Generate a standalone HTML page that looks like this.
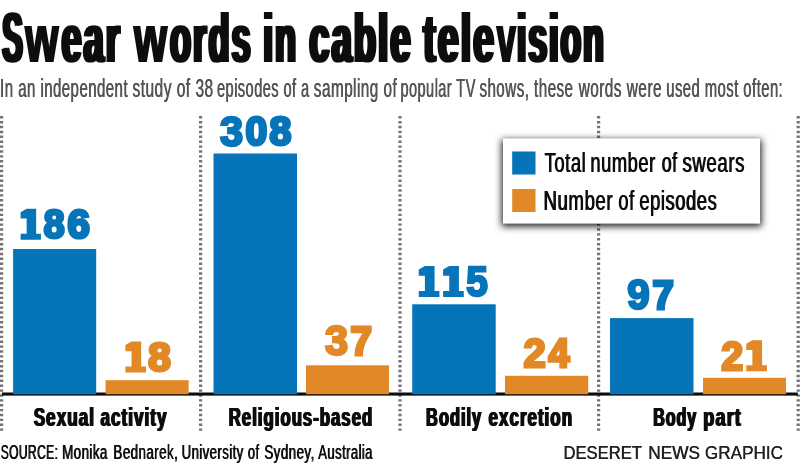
<!DOCTYPE html>
<html>
<head>
<meta charset="utf-8">
<title>Swear words in cable television</title>
<style>
  html, body { margin: 0; padding: 0; background: #ffffff; }
  body { width: 800px; height: 464px; overflow: hidden; }
  svg { display: block; }
  text { font-family: "Liberation Sans", sans-serif; }
  .b { font-weight: bold; }
</style>
</head>
<body>
<svg width="800" height="464" viewBox="0 0 800 464">
  <defs>
    <filter id="sh" x="-10%" y="-25%" width="120%" height="150%">
      <feGaussianBlur stdDeviation="3.6"/>
    </filter>
  </defs>
  <rect x="0" y="0" width="800" height="464" fill="#ffffff"/>

  <!-- dotted separators -->
  <g stroke="#737373" stroke-width="3.2" stroke-dasharray="2.4 2.48" fill="none">
    <line x1="1.6" y1="116.1" x2="1.6" y2="431.2"/>
    <line x1="200.6" y1="116.1" x2="200.6" y2="431.2"/>
    <line x1="400" y1="116.1" x2="400" y2="431.2"/>
    <line x1="598.6" y1="116.1" x2="598.6" y2="431.2"/>
    <line x1="798.2" y1="116.1" x2="798.2" y2="431.2"/>
  </g>

  <!-- base line -->
  <rect x="2" y="392.5" width="795.8" height="3.1" fill="#0d0d0d"/>

  <!-- bars -->
  <g fill="#0674b8">
    <rect x="13.1" y="249" width="83.1" height="145.2"/>
    <rect x="213.5" y="153.5" width="83.5" height="240.7"/>
    <rect x="412.2" y="304.3" width="83.5" height="89.9"/>
    <rect x="610" y="318.1" width="83.5" height="76.1"/>
  </g>
  <g fill="#e28826">
    <rect x="105.6" y="380.2" width="83.0" height="14.0"/>
    <rect x="306" y="365.3" width="83" height="28.9"/>
    <rect x="505" y="375.8" width="83.2" height="18.4"/>
    <rect x="703" y="377.8" width="83" height="16.4"/>
  </g>

  <!-- legend box -->
  <rect x="501.5" y="139.6" width="260" height="87" fill="#000000" fill-opacity="0.85" filter="url(#sh)"/>
  <rect x="503" y="138.4" width="257" height="85.2" fill="#ffffff"/>
  <rect x="512.2" y="151.5" width="23.3" height="23" fill="#0674b8"/>
  <rect x="512.2" y="189" width="23.3" height="23" fill="#e28826"/>

  <!-- "1" digits (slab) -->
    <polygon points="26.64,208.65 36.15,208.65 36.15,233.65 40.90,233.65 40.90,239.75 20.60,239.75 20.60,233.65 26.64,233.65 26.64,218.55 20.60,218.55 20.60,212.25" fill="#0674b8"/>
  <polygon points="424.89,265.90 434.56,265.90 434.56,290.90 439.40,290.90 439.40,297.00 418.75,297.00 418.75,290.90 424.89,290.90 424.89,275.80 418.75,275.80 418.75,269.50" fill="#0674b8"/>
  <polygon points="449.24,265.90 458.91,265.90 458.91,290.90 463.75,290.90 463.75,297.00 443.10,297.00 443.10,290.90 449.24,290.90 449.24,275.80 443.10,275.80 443.10,269.50" fill="#0674b8"/>
  <polygon points="131.53,341.40 141.18,341.40 141.18,366.40 146.00,366.40 146.00,372.50 125.40,372.50 125.40,366.40 131.53,366.40 131.53,351.30 125.40,351.30 125.40,345.00" fill="#e28826"/>
  <polygon points="752.39,340.15 762.06,340.15 762.06,365.15 766.90,365.15 766.90,371.25 746.25,371.25 746.25,365.15 752.39,365.15 752.39,350.05 746.25,350.05 746.25,343.75" fill="#e28826"/>

  <!-- text -->
  <g opacity="0.999">
    <text class="b" x="0.52" y="62" font-size="71.3" textLength="20.55" lengthAdjust="spacingAndGlyphs" fill="#0d0d0d">S</text><text class="b" x="2.32" y="62" font-size="71.3" textLength="20.55" lengthAdjust="spacingAndGlyphs" fill="#0d0d0d">S</text><text class="b" x="4.12" y="62" font-size="71.3" textLength="20.55" lengthAdjust="spacingAndGlyphs" fill="#0d0d0d">S</text>
  <text class="b" x="24.36" y="62" font-size="68.6" textLength="35.62" lengthAdjust="spacingAndGlyphs" letter-spacing="4" fill="#0d0d0d">w</text><text class="b" x="25.26" y="62" font-size="68.6" textLength="35.62" lengthAdjust="spacingAndGlyphs" letter-spacing="4" fill="#0d0d0d">w</text><text class="b" x="26.16" y="62" font-size="68.6" textLength="35.62" lengthAdjust="spacingAndGlyphs" letter-spacing="4" fill="#0d0d0d">w</text>
  <text class="b" x="59.68" y="62" font-size="68.6" textLength="60.44" lengthAdjust="spacingAndGlyphs" letter-spacing="4" fill="#0d0d0d">ear</text><text class="b" x="61.48" y="62" font-size="68.6" textLength="60.44" lengthAdjust="spacingAndGlyphs" letter-spacing="4" fill="#0d0d0d">ear</text><text class="b" x="63.28" y="62" font-size="68.6" textLength="60.44" lengthAdjust="spacingAndGlyphs" letter-spacing="4" fill="#0d0d0d">ear</text>
  <text class="b" x="133.1" y="62" font-size="68.6" textLength="35.49" lengthAdjust="spacingAndGlyphs" letter-spacing="4" fill="#0d0d0d">w</text><text class="b" x="134" y="62" font-size="68.6" textLength="35.49" lengthAdjust="spacingAndGlyphs" letter-spacing="4" fill="#0d0d0d">w</text><text class="b" x="134.9" y="62" font-size="68.6" textLength="35.49" lengthAdjust="spacingAndGlyphs" letter-spacing="4" fill="#0d0d0d">w</text>
  <text class="b" x="168.24" y="62" font-size="68.6" textLength="82.62" lengthAdjust="spacingAndGlyphs" letter-spacing="4" fill="#0d0d0d">ords</text><text class="b" x="170.04" y="62" font-size="68.6" textLength="82.62" lengthAdjust="spacingAndGlyphs" letter-spacing="4" fill="#0d0d0d">ords</text><text class="b" x="171.84" y="62" font-size="68.6" textLength="82.62" lengthAdjust="spacingAndGlyphs" letter-spacing="4" fill="#0d0d0d">ords</text>
  <text class="b" x="261.53" y="62" font-size="68.6" textLength="34.71" lengthAdjust="spacingAndGlyphs" letter-spacing="4" fill="#0d0d0d">in</text><text class="b" x="263.33" y="62" font-size="68.6" textLength="34.71" lengthAdjust="spacingAndGlyphs" letter-spacing="4" fill="#0d0d0d">in</text><text class="b" x="265.13" y="62" font-size="68.6" textLength="34.71" lengthAdjust="spacingAndGlyphs" letter-spacing="4" fill="#0d0d0d">in</text>
  <text class="b" x="307.52" y="62" font-size="68.6" textLength="103.3" lengthAdjust="spacingAndGlyphs" letter-spacing="4" fill="#0d0d0d">cable</text><text class="b" x="309.32" y="62" font-size="68.6" textLength="103.3" lengthAdjust="spacingAndGlyphs" letter-spacing="4" fill="#0d0d0d">cable</text><text class="b" x="311.12" y="62" font-size="68.6" textLength="103.3" lengthAdjust="spacingAndGlyphs" letter-spacing="4" fill="#0d0d0d">cable</text>
  <text class="b" x="421.49" y="62" font-size="68.6" textLength="72.85" lengthAdjust="spacingAndGlyphs" letter-spacing="4" fill="#0d0d0d">tele</text><text class="b" x="423.29" y="62" font-size="68.6" textLength="72.85" lengthAdjust="spacingAndGlyphs" letter-spacing="4" fill="#0d0d0d">tele</text><text class="b" x="425.09" y="62" font-size="68.6" textLength="72.85" lengthAdjust="spacingAndGlyphs" letter-spacing="4" fill="#0d0d0d">tele</text>
  <text class="b" x="495.86" y="62" font-size="68.6" textLength="21.02" lengthAdjust="spacingAndGlyphs" letter-spacing="4" fill="#0d0d0d">v</text><text class="b" x="496.76" y="62" font-size="68.6" textLength="21.02" lengthAdjust="spacingAndGlyphs" letter-spacing="4" fill="#0d0d0d">v</text><text class="b" x="497.66" y="62" font-size="68.6" textLength="21.02" lengthAdjust="spacingAndGlyphs" letter-spacing="4" fill="#0d0d0d">v</text>
  <text class="b" x="515.2" y="62" font-size="68.6" textLength="88.71" lengthAdjust="spacingAndGlyphs" letter-spacing="4" fill="#0d0d0d">ision</text><text class="b" x="517.0" y="62" font-size="68.6" textLength="88.71" lengthAdjust="spacingAndGlyphs" letter-spacing="4" fill="#0d0d0d">ision</text><text class="b" x="518.8" y="62" font-size="68.6" textLength="88.71" lengthAdjust="spacingAndGlyphs" letter-spacing="4" fill="#0d0d0d">ision</text>
  <text x="-0.15" y="97.4" font-size="26.3" textLength="127.93" lengthAdjust="spacingAndGlyphs" letter-spacing="0.8" fill="#555555">In an independent</text><text x="0.35" y="97.4" font-size="26.3" textLength="127.93" lengthAdjust="spacingAndGlyphs" letter-spacing="0.8" fill="#555555">In an independent</text>
  <text x="132.16" y="97.4" font-size="26.3" textLength="81.21" lengthAdjust="spacingAndGlyphs" letter-spacing="0.8" fill="#555555">study of 38</text><text x="132.66" y="97.4" font-size="26.3" textLength="81.21" lengthAdjust="spacingAndGlyphs" letter-spacing="0.8" fill="#555555">study of 38</text>
  <text x="216.82" y="97.4" font-size="26.3" textLength="92.55" lengthAdjust="spacingAndGlyphs" letter-spacing="0.8" fill="#555555">episodes of a</text><text x="217.32" y="97.4" font-size="26.3" textLength="92.55" lengthAdjust="spacingAndGlyphs" letter-spacing="0.8" fill="#555555">episodes of a</text>
  <text x="313.62" y="97.4" font-size="26.3" textLength="83.33" lengthAdjust="spacingAndGlyphs" letter-spacing="0.8" fill="#555555">sampling of</text><text x="314.12" y="97.4" font-size="26.3" textLength="83.33" lengthAdjust="spacingAndGlyphs" letter-spacing="0.8" fill="#555555">sampling of</text>
  <text x="400.28" y="97.4" font-size="26.3" textLength="75.33" lengthAdjust="spacingAndGlyphs" letter-spacing="0.8" fill="#555555">popular TV</text><text x="400.78" y="97.4" font-size="26.3" textLength="75.33" lengthAdjust="spacingAndGlyphs" letter-spacing="0.8" fill="#555555">popular TV</text>
  <text x="479.15" y="97.4" font-size="26.3" textLength="94.12" lengthAdjust="spacingAndGlyphs" letter-spacing="0.8" fill="#555555">shows, these</text><text x="479.65" y="97.4" font-size="26.3" textLength="94.12" lengthAdjust="spacingAndGlyphs" letter-spacing="0.8" fill="#555555">shows, these</text>
  <text x="578.4" y="97.4" font-size="26.3" textLength="83.35" lengthAdjust="spacingAndGlyphs" letter-spacing="0.8" fill="#555555">words were</text><text x="578.9" y="97.4" font-size="26.3" textLength="83.35" lengthAdjust="spacingAndGlyphs" letter-spacing="0.8" fill="#555555">words were</text>
  <text x="666.01" y="97.4" font-size="26.3" textLength="116.93" lengthAdjust="spacingAndGlyphs" letter-spacing="0.8" fill="#555555">used most often:</text><text x="666.51" y="97.4" font-size="26.3" textLength="116.93" lengthAdjust="spacingAndGlyphs" letter-spacing="0.8" fill="#555555">used most often:</text>
  <text class="b" x="32.91" y="426.4" font-size="25.2" textLength="61.32" lengthAdjust="spacingAndGlyphs" letter-spacing="1.5" fill="#0d0d0d">Sexual</text><text class="b" x="33.66" y="426.4" font-size="25.2" textLength="61.32" lengthAdjust="spacingAndGlyphs" letter-spacing="1.5" fill="#0d0d0d">Sexual</text><text class="b" x="34.41" y="426.4" font-size="25.2" textLength="61.32" lengthAdjust="spacingAndGlyphs" letter-spacing="1.5" fill="#0d0d0d">Sexual</text>
  <text class="b" x="99.71" y="426.4" font-size="25.2" textLength="67.02" lengthAdjust="spacingAndGlyphs" letter-spacing="1.5" fill="#0d0d0d">activity</text><text class="b" x="100.46" y="426.4" font-size="25.2" textLength="67.02" lengthAdjust="spacingAndGlyphs" letter-spacing="1.5" fill="#0d0d0d">activity</text><text class="b" x="101.21" y="426.4" font-size="25.2" textLength="67.02" lengthAdjust="spacingAndGlyphs" letter-spacing="1.5" fill="#0d0d0d">activity</text>
  <text class="b" x="227.99" y="426.4" font-size="25.2" textLength="144.5" lengthAdjust="spacingAndGlyphs" letter-spacing="1.5" fill="#0d0d0d">Religious-based</text><text class="b" x="228.74" y="426.4" font-size="25.2" textLength="144.5" lengthAdjust="spacingAndGlyphs" letter-spacing="1.5" fill="#0d0d0d">Religious-based</text><text class="b" x="229.49" y="426.4" font-size="25.2" textLength="144.5" lengthAdjust="spacingAndGlyphs" letter-spacing="1.5" fill="#0d0d0d">Religious-based</text>
  <text class="b" x="425.37" y="426.4" font-size="25.2" textLength="55.94" lengthAdjust="spacingAndGlyphs" letter-spacing="1.5" fill="#0d0d0d">Bodily</text><text class="b" x="426.12" y="426.4" font-size="25.2" textLength="55.94" lengthAdjust="spacingAndGlyphs" letter-spacing="1.5" fill="#0d0d0d">Bodily</text><text class="b" x="426.87" y="426.4" font-size="25.2" textLength="55.94" lengthAdjust="spacingAndGlyphs" letter-spacing="1.5" fill="#0d0d0d">Bodily</text>
  <text class="b" x="487.8" y="426.4" font-size="25.2" textLength="84.53" lengthAdjust="spacingAndGlyphs" letter-spacing="1.5" fill="#0d0d0d">excretion</text><text class="b" x="488.55" y="426.4" font-size="25.2" textLength="84.53" lengthAdjust="spacingAndGlyphs" letter-spacing="1.5" fill="#0d0d0d">excretion</text><text class="b" x="489.3" y="426.4" font-size="25.2" textLength="84.53" lengthAdjust="spacingAndGlyphs" letter-spacing="1.5" fill="#0d0d0d">excretion</text>
  <text class="b" x="652.46" y="426.4" font-size="25.2" textLength="44.01" lengthAdjust="spacingAndGlyphs" letter-spacing="1.5" fill="#0d0d0d">Body</text><text class="b" x="653.21" y="426.4" font-size="25.2" textLength="44.01" lengthAdjust="spacingAndGlyphs" letter-spacing="1.5" fill="#0d0d0d">Body</text><text class="b" x="653.96" y="426.4" font-size="25.2" textLength="44.01" lengthAdjust="spacingAndGlyphs" letter-spacing="1.5" fill="#0d0d0d">Body</text>
  <text class="b" x="702.62" y="426.4" font-size="25.2" textLength="38.57" lengthAdjust="spacingAndGlyphs" letter-spacing="1.5" fill="#0d0d0d">part</text><text class="b" x="703.37" y="426.4" font-size="25.2" textLength="38.57" lengthAdjust="spacingAndGlyphs" letter-spacing="1.5" fill="#0d0d0d">part</text><text class="b" x="704.12" y="426.4" font-size="25.2" textLength="38.57" lengthAdjust="spacingAndGlyphs" letter-spacing="1.5" fill="#0d0d0d">part</text>
  <text x="544.25" y="171.7" font-size="27" textLength="41.59" lengthAdjust="spacingAndGlyphs" letter-spacing="0.8" fill="#0d0d0d">Total</text><text x="545.05" y="171.7" font-size="27" textLength="41.59" lengthAdjust="spacingAndGlyphs" letter-spacing="0.8" fill="#0d0d0d">Total</text>
  <text x="590.03" y="171.7" font-size="27" textLength="65.42" lengthAdjust="spacingAndGlyphs" letter-spacing="0.8" fill="#0d0d0d">number</text><text x="590.83" y="171.7" font-size="27" textLength="65.42" lengthAdjust="spacingAndGlyphs" letter-spacing="0.8" fill="#0d0d0d">number</text>
  <text x="661.34" y="171.7" font-size="27" textLength="15.88" lengthAdjust="spacingAndGlyphs" letter-spacing="0.8" fill="#0d0d0d">of</text><text x="662.14" y="171.7" font-size="27" textLength="15.88" lengthAdjust="spacingAndGlyphs" letter-spacing="0.8" fill="#0d0d0d">of</text>
  <text x="682.12" y="171.7" font-size="27" textLength="62.45" lengthAdjust="spacingAndGlyphs" letter-spacing="0.8" fill="#0d0d0d">swears</text><text x="682.92" y="171.7" font-size="27" textLength="62.45" lengthAdjust="spacingAndGlyphs" letter-spacing="0.8" fill="#0d0d0d">swears</text>
  <text x="543.1" y="209.8" font-size="27" textLength="69.65" lengthAdjust="spacingAndGlyphs" letter-spacing="0.8" fill="#0d0d0d">Number</text><text x="543.9" y="209.8" font-size="27" textLength="69.65" lengthAdjust="spacingAndGlyphs" letter-spacing="0.8" fill="#0d0d0d">Number</text>
  <text x="617.96" y="209.8" font-size="27" textLength="16.29" lengthAdjust="spacingAndGlyphs" letter-spacing="0.8" fill="#0d0d0d">of</text><text x="618.76" y="209.8" font-size="27" textLength="16.29" lengthAdjust="spacingAndGlyphs" letter-spacing="0.8" fill="#0d0d0d">of</text>
  <text x="638.95" y="209.8" font-size="27" textLength="77.93" lengthAdjust="spacingAndGlyphs" letter-spacing="0.8" fill="#0d0d0d">episodes</text><text x="639.75" y="209.8" font-size="27" textLength="77.93" lengthAdjust="spacingAndGlyphs" letter-spacing="0.8" fill="#0d0d0d">episodes</text>
  <text x="0.38" y="458.9" font-size="19.4" textLength="57.54" lengthAdjust="spacingAndGlyphs" letter-spacing="0.6" fill="#0d0d0d">SOURCE:</text><text x="1.08" y="458.9" font-size="19.4" textLength="57.54" lengthAdjust="spacingAndGlyphs" letter-spacing="0.6" fill="#0d0d0d">SOURCE:</text>
  <text x="61.73" y="458.9" font-size="19.4" textLength="45.76" lengthAdjust="spacingAndGlyphs" letter-spacing="0.6" fill="#0d0d0d">Monika</text><text x="62.43" y="458.9" font-size="19.4" textLength="45.76" lengthAdjust="spacingAndGlyphs" letter-spacing="0.6" fill="#0d0d0d">Monika</text>
  <text x="113.08" y="458.9" font-size="19.4" textLength="64.84" lengthAdjust="spacingAndGlyphs" letter-spacing="0.6" fill="#0d0d0d">Bednarek,</text><text x="113.78" y="458.9" font-size="19.4" textLength="64.84" lengthAdjust="spacingAndGlyphs" letter-spacing="0.6" fill="#0d0d0d">Bednarek,</text>
  <text x="181.25" y="458.9" font-size="19.4" textLength="62.14" lengthAdjust="spacingAndGlyphs" letter-spacing="0.6" fill="#0d0d0d">University</text><text x="181.95" y="458.9" font-size="19.4" textLength="62.14" lengthAdjust="spacingAndGlyphs" letter-spacing="0.6" fill="#0d0d0d">University</text>
  <text x="247.61" y="458.9" font-size="19.4" textLength="11.53" lengthAdjust="spacingAndGlyphs" letter-spacing="0.6" fill="#0d0d0d">of</text><text x="248.31" y="458.9" font-size="19.4" textLength="11.53" lengthAdjust="spacingAndGlyphs" letter-spacing="0.6" fill="#0d0d0d">of</text>
  <text x="264.01" y="458.9" font-size="19.4" textLength="50.34" lengthAdjust="spacingAndGlyphs" letter-spacing="0.6" fill="#0d0d0d">Sydney,</text><text x="264.71" y="458.9" font-size="19.4" textLength="50.34" lengthAdjust="spacingAndGlyphs" letter-spacing="0.6" fill="#0d0d0d">Sydney,</text>
  <text x="317.88" y="458.9" font-size="19.4" textLength="54.67" lengthAdjust="spacingAndGlyphs" letter-spacing="0.6" fill="#0d0d0d">Australia</text><text x="318.58" y="458.9" font-size="19.4" textLength="54.67" lengthAdjust="spacingAndGlyphs" letter-spacing="0.6" fill="#0d0d0d">Australia</text>
  <text x="563.28" y="459.2" font-size="18.6" textLength="78.44" lengthAdjust="spacingAndGlyphs" fill="#222222">DESERET</text><text x="563.68" y="459.2" font-size="18.6" textLength="78.44" lengthAdjust="spacingAndGlyphs" fill="#222222">DESERET</text>
  <text x="648.04" y="459.2" font-size="18.6" textLength="51.84" lengthAdjust="spacingAndGlyphs" fill="#222222">NEWS</text><text x="648.44" y="459.2" font-size="18.6" textLength="51.84" lengthAdjust="spacingAndGlyphs" fill="#222222">NEWS</text>
  <text x="704.72" y="459.2" font-size="18.6" textLength="78.13" lengthAdjust="spacingAndGlyphs" fill="#222222">GRAPHIC</text><text x="705.12" y="459.2" font-size="18.6" textLength="78.13" lengthAdjust="spacingAndGlyphs" fill="#222222">GRAPHIC</text>
  <text class="b" x="43.76" y="238.15" font-size="41.0" textLength="20.83" lengthAdjust="spacingAndGlyphs" fill="#0674b8" stroke="#0674b8" stroke-width="3.2" stroke-linejoin="miter" stroke-miterlimit="3">8</text>
  <text class="b" x="67.48" y="238.15" font-size="41.0" textLength="22.34" lengthAdjust="spacingAndGlyphs" fill="#0674b8" stroke="#0674b8" stroke-width="3.2" stroke-linejoin="miter" stroke-miterlimit="3">6</text>
  <text class="b" x="220.09" y="145.75" font-size="41.98" textLength="23.06" lengthAdjust="spacingAndGlyphs" fill="#0674b8" stroke="#0674b8" stroke-width="2.5" stroke-linejoin="miter" stroke-miterlimit="3">3</text>
  <text class="b" x="245.57" y="145.4" font-size="41.0" textLength="21.69" lengthAdjust="spacingAndGlyphs" fill="#0674b8" stroke="#0674b8" stroke-width="3.2" stroke-linejoin="miter" stroke-miterlimit="3">0</text>
  <text class="b" x="269.6" y="145.4" font-size="41.0" textLength="21.79" lengthAdjust="spacingAndGlyphs" fill="#0674b8" stroke="#0674b8" stroke-width="3.2" stroke-linejoin="miter" stroke-miterlimit="3">8</text>
  <text class="b" x="466.27" y="295.75" font-size="41.98" textLength="21.56" lengthAdjust="spacingAndGlyphs" fill="#0674b8" stroke="#0674b8" stroke-width="2.5" stroke-linejoin="miter" stroke-miterlimit="3">5</text>
  <text class="b" x="627.23" y="309.35" font-size="41.98" textLength="22.47" lengthAdjust="spacingAndGlyphs" fill="#0674b8" stroke="#0674b8" stroke-width="2.5" stroke-linejoin="miter" stroke-miterlimit="3">9</text>
  <text class="b" x="652.39" y="309.0" font-size="41.0" textLength="21.3" lengthAdjust="spacingAndGlyphs" fill="#0674b8" stroke="#0674b8" stroke-width="3.2" stroke-linejoin="miter" stroke-miterlimit="3">7</text>
  <text class="b" x="148.31" y="370.9" font-size="41.0" textLength="22.51" lengthAdjust="spacingAndGlyphs" fill="#e28826" stroke="#e28826" stroke-width="3.2" stroke-linejoin="miter" stroke-miterlimit="3">8</text>
  <text class="b" x="325.09" y="355.35" font-size="41.98" textLength="23.06" lengthAdjust="spacingAndGlyphs" fill="#e28826" stroke="#e28826" stroke-width="2.5" stroke-linejoin="miter" stroke-miterlimit="3">3</text>
  <text class="b" x="350.44" y="355.0" font-size="41.0" textLength="21.46" lengthAdjust="spacingAndGlyphs" fill="#e28826" stroke="#e28826" stroke-width="3.2" stroke-linejoin="miter" stroke-miterlimit="3">7</text>
  <text class="b" x="523.57" y="367.05" font-size="41.42" textLength="22.25" lengthAdjust="spacingAndGlyphs" fill="#e28826" stroke="#e28826" stroke-width="2.9" stroke-linejoin="miter" stroke-miterlimit="3">2</text>
  <text class="b" x="548.39" y="366.9" font-size="41.0" textLength="20.94" lengthAdjust="spacingAndGlyphs" fill="#e28826" stroke="#e28826" stroke-width="3.2" stroke-linejoin="miter" stroke-miterlimit="3">4</text>
  <text class="b" x="721.15" y="369.8" font-size="41.42" textLength="21.93" lengthAdjust="spacingAndGlyphs" fill="#e28826" stroke="#e28826" stroke-width="2.9" stroke-linejoin="miter" stroke-miterlimit="3">2</text>
  </g>
</svg>
</body>
</html>
